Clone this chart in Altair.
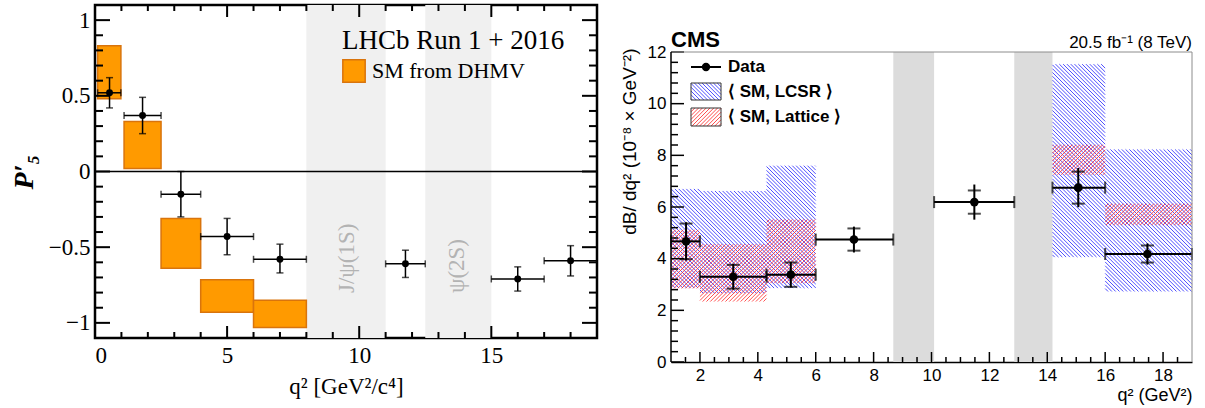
import altair as alt
import numpy as np
import pandas as pd

# ---------------- LHCb panel data ----------------
lhcb_bin_lo = [0.1, 1.1, 2.5, 4.0, 6.0, 11.0, 15.0, 17.0]
lhcb_bin_hi = [0.98, 2.5, 4.0, 6.0, 8.0, 12.5, 17.0, 19.0]
lhcb_x = [0.55, 1.8, 3.25, 5.0, 7.0, 11.75, 16.0, 18.0]
lhcb_p5 = [0.52, 0.37, -0.15, -0.43, -0.58, -0.61, -0.71, -0.59]
lhcb_err_up = [0.10, 0.12, 0.15, 0.12, 0.10, 0.09, 0.08, 0.10]
lhcb_err_dn = [0.10, 0.12, 0.15, 0.12, 0.09, 0.09, 0.08, 0.10]

dhmv_bin_lo = [0.1, 1.1, 2.5, 4.0, 6.0]
dhmv_bin_hi = [0.98, 2.5, 4.0, 6.0, 8.0]
dhmv_lo = [0.48, 0.02, -0.64, -0.93, -1.03]
dhmv_hi = [0.83, 0.33, -0.31, -0.715, -0.85]

lhcb_veto_lo = [8.0, 12.5]
lhcb_veto_hi = [11.0, 15.0]
lhcb_veto_label = ["J/ψ(1S)", "ψ(2S)"]
lhcb_veto_label_x = [9.55, 13.7]

lhcb_x_major = [0, 5, 10, 15]
lhcb_x_minor = [1, 2, 3, 4, 6, 7, 8, 9, 11, 12, 13, 14, 16, 17, 18]
lhcb_y_major = [-1.0, -0.5, 0.0, 0.5, 1.0]
lhcb_y_minor = [-0.9, -0.8, -0.7, -0.6, -0.4, -0.3, -0.2, -0.1,
                0.1, 0.2, 0.3, 0.4, 0.6, 0.7, 0.8, 0.9]

# ---------------- CMS panel data ----------------
cms_bin_lo = [1.0, 2.0, 4.3, 6.0, 10.09, 14.18, 16.0]
cms_bin_hi = [2.0, 4.3, 6.0, 8.68, 12.86, 16.0, 19.0]
cms_x = [1.52, 3.15, 5.14, 7.32, 11.48, 15.07, 17.46]
cms_dbdq2 = [4.67, 3.30, 3.38, 4.74, 6.19, 6.75, 4.18]
cms_stat = [0.69, 0.46, 0.47, 0.43, 0.45, 0.62, 0.33]
cms_total = [0.74, 0.50, 0.50, 0.50, 0.68, 0.76, 0.41]

sm_bin_lo = [1.0, 2.0, 4.3, 14.18, 16.0]
sm_bin_hi = [2.0, 4.3, 6.0, 16.0, 19.0]
lcsr_lo = [2.86, 2.66, 2.86, 4.06, 2.73]
lcsr_hi = [6.70, 6.62, 7.60, 11.53, 8.23]
lattice_lo = [2.85, 2.34, 3.05, 7.25, 5.30]
lattice_hi = [5.12, 4.56, 5.52, 8.41, 6.13]

cms_veto_lo = [8.68, 12.86]
cms_veto_hi = [10.09, 14.18]

cms_x_major = [2, 4, 6, 8, 10, 12, 14, 16, 18]
cms_x_minor = [1.5, 2.5, 3, 3.5, 4.5, 5, 5.5, 6.5, 7, 7.5, 8.5, 9, 9.5,
               10.5, 11, 11.5, 12.5, 13, 13.5, 14.5, 15, 15.5, 16.5, 17,
               17.5, 18.5]
cms_y_major = [0, 2, 4, 6, 8, 10, 12]
cms_y_minor = [0.4, 0.8, 1.2, 1.6, 2.4, 2.8, 3.2, 3.6, 4.4, 4.8, 5.2, 5.6,
               6.4, 6.8, 7.2, 7.6, 8.4, 8.8, 9.2, 9.6, 10.4, 10.8, 11.2, 11.6]

SERIF = "Liberation Serif"
SANS = "Liberation Sans"
one = pd.DataFrame({"a": [0]})


def ticks(values, channel, xs, ys, p0, p1, color, width):
    df = pd.DataFrame({"v": values})
    if channel == "x":
        enc = dict(x=alt.X("v:Q", scale=xs), y=alt.value(p0), y2=alt.value(p1))
    else:
        enc = dict(y=alt.Y("v:Q", scale=ys), x=alt.value(p0), x2=alt.value(p1))
    return alt.Chart(df).mark_rule(color=color, strokeWidth=width).encode(**enc)


def spacer(x0, y0, x1, y1):
    # invisible diagonal rule fixing the panel's layout bounds
    return alt.Chart(one).mark_rule(opacity=0, strokeOpacity=0).encode(
        x=alt.value(x0), y=alt.value(y0), x2=alt.value(x1), y2=alt.value(y1))


TOP = 3          # plot-area top of both panels (page pixels)
BOTTOM = 404     # lowest page pixel used by either panel

# =============== LEFT PANEL ===============
LW, LH = 502, 333
L_LEFT = 95
xs_l = alt.Scale(domain=[0, 19], nice=False, zero=False)
ys_l = alt.Scale(domain=[-1.1, 1.1], nice=False, zero=False)

veto_l = pd.DataFrame({"lo": lhcb_veto_lo, "hi": lhcb_veto_hi,
                       "label": lhcb_veto_label, "lx": lhcb_veto_label_x})
veto_l_layer = alt.Chart(veto_l).mark_rect(color="#f0f0f0").encode(
    x=alt.X("lo:Q", scale=xs_l), x2="hi:Q",
    y=alt.value(0), y2=alt.value(LH))
veto_l_text = alt.Chart(veto_l).mark_text(
    angle=270, align="left", baseline="middle", font=SERIF, fontSize=23,
    color="#b3b3b3").encode(
    x=alt.X("lx:Q", scale=xs_l), y=alt.value(288), text="label:N")

zero_line = alt.Chart(pd.DataFrame({"z": [0.0]})).mark_rule(
    color="black", strokeWidth=1.5).encode(y=alt.Y("z:Q", scale=ys_l))

dhmv = pd.DataFrame({"x0": dhmv_bin_lo, "x1": dhmv_bin_hi, "lo": dhmv_lo,
                     "hi": dhmv_hi, "label": ["SM from DHMV"] * 5})
dhmv_layer = alt.Chart(dhmv).mark_rect(strokeWidth=1.5, stroke="#d9740c",
                                       opacity=1).encode(
    x=alt.X("x0:Q", scale=xs_l), x2="x1:Q",
    y=alt.Y("lo:Q", scale=ys_l), y2="hi:Q",
    color=alt.Color("label:N",
                    scale=alt.Scale(domain=["SM from DHMV"], range=["#ff9a00"]),
                    legend=alt.Legend(
                        title="LHCb Run 1 + 2016", orient="none",
                        legendX=247, legendY=23, titleFont=SERIF,
                        titleFontSize=27, titleFontWeight="normal",
                        titleColor="black", titleLimit=400, labelLimit=400,
                        labelFont=SERIF, labelFontSize=22, labelColor="black",
                        symbolType="square", symbolSize=500,
                        symbolStrokeColor="#d9740c", symbolStrokeWidth=1.5,
                        symbolOpacity=1, titlePadding=4, labelOffset=6)))

lhcb = pd.DataFrame({"x": lhcb_x, "lo": lhcb_bin_lo, "hi": lhcb_bin_hi,
                     "y": lhcb_p5,
                     "ylo": [v - e for v, e in zip(lhcb_p5, lhcb_err_dn)],
                     "yhi": [v + e for v, e in zip(lhcb_p5, lhcb_err_up)]})
lb = alt.Chart(lhcb)
l_hbar = lb.mark_rule(color="black", strokeWidth=1.5).encode(
    x=alt.X("lo:Q", scale=xs_l), x2="hi:Q", y=alt.Y("y:Q", scale=ys_l))
l_vbar = lb.mark_rule(color="black", strokeWidth=1.5).encode(
    x=alt.X("x:Q", scale=xs_l), y=alt.Y("ylo:Q", scale=ys_l), y2="yhi:Q")
l_caps = []
for fx in ["lo", "hi"]:
    l_caps.append(lb.mark_tick(orient="vertical", size=7, thickness=1.5,
                               color="black").encode(
        x=alt.X(f"{fx}:Q", scale=xs_l), y=alt.Y("y:Q", scale=ys_l)))
for fy in ["ylo", "yhi"]:
    l_caps.append(lb.mark_tick(orient="horizontal", size=7, thickness=1.5,
                               color="black").encode(
        x=alt.X("x:Q", scale=xs_l), y=alt.Y(f"{fy}:Q", scale=ys_l)))
l_pts = lb.mark_circle(size=48, color="black", opacity=1).encode(
    x=alt.X("x:Q", scale=xs_l, axis=alt.Axis(
        values=lhcb_x_major, ticks=False, domain=False, grid=False,
        labelFont=SERIF, labelFontSize=23, labelColor="black", labelPadding=6,
        title="q² [GeV²/c⁴]", titleFont=SERIF, titleFontSize=23,
        titleFontWeight="normal", titleColor="black", titlePadding=8)),
    y=alt.Y("y:Q", scale=ys_l, axis=alt.Axis(
        values=lhcb_y_major, format="~g", ticks=False, domain=False,
        grid=False, labelFont=SERIF, labelFontSize=23, labelColor="black",
        labelPadding=5, title="P′₅", titleFont=SERIF, titleFontSize=28,
        titleFontStyle="italic", titleFontWeight="bold", titleColor="black",
        titlePadding=10)))

l_ticks = [
    ticks(lhcb_x_major, "x", xs_l, ys_l, LH, LH - 12, "black", 2),
    ticks(lhcb_x_major, "x", xs_l, ys_l, 0, 12, "black", 2),
    ticks(lhcb_x_minor, "x", xs_l, ys_l, LH, LH - 6, "black", 2),
    ticks(lhcb_x_minor, "x", xs_l, ys_l, 0, 6, "black", 2),
    ticks(lhcb_y_major, "y", xs_l, ys_l, 0, 15, "black", 2),
    ticks(lhcb_y_major, "y", xs_l, ys_l, LW, LW - 15, "black", 2),
    ticks(lhcb_y_minor, "y", xs_l, ys_l, 0, 8, "black", 2),
    ticks(lhcb_y_minor, "y", xs_l, ys_l, LW, LW - 8, "black", 2),
]

left = alt.layer(veto_l_layer, veto_l_text, zero_line, dhmv_layer, l_hbar,
                 l_vbar, *l_caps, l_pts, *l_ticks,
                 spacer(-(L_LEFT - 2), -TOP, LW - 6, BOTTOM - TOP)).properties(
    width=LW, height=LH,
    view=alt.ViewBackground(stroke="black", strokeWidth=2.5, fill="white"))

# =============== RIGHT PANEL ===============
# The CMS frame (y = 0..12) sits 47 px below the panel top; the plot area
# therefore starts at TOP and the y scale extends above 12 (hidden headroom).
RW = 521
R_LEFT = 668
FRAME_H = 310
FT = 47                      # frame top offset inside the plot area
RH = FRAME_H + FT
RX0, RX1, RY0, RY1 = 1.0, 19.0, 0.0, 12.0
PXX = RW / (RX1 - RX0)
PXY = FRAME_H / (RY1 - RY0)
xs_r = alt.Scale(domain=[RX0, RX1], nice=False, zero=False)
ys_r = alt.Scale(domain=[RY0, RY1 + FT / PXY], nice=False, zero=False)
STEP = 3.8


def hatch(X0, X1, Y0, Y1, direction):
    """diagonal hatch segments inside a pixel rectangle (y downward)"""
    segs = []
    if direction == "back":
        k0 = int(np.ceil((X0 - Y1) / STEP))
        k1 = int(np.floor((X1 - Y0) / STEP))
        for k in range(k0, k1 + 1):
            c = k * STEP
            xa, xb = max(X0, Y0 + c), min(X1, Y1 + c)
            if xb - xa > 0.4:
                segs.append((xa, xa - c, xb, xb - c))
    else:
        k0 = int(np.ceil((X0 + Y0) / STEP))
        k1 = int(np.floor((X1 + Y1) / STEP))
        for k in range(k0, k1 + 1):
            c = k * STEP
            xa, xb = max(X0, c - Y1), min(X1, c - Y0)
            if xb - xa > 0.4:
                segs.append((xa, c - xa, xb, c - xb))
    return segs


def hatch_df(xlo, xhi, ylo, yhi, direction):
    rows = []
    for a, b, lo, hi in zip(xlo, xhi, ylo, yhi):
        X0, X1 = (a - RX0) * PXX, (b - RX0) * PXX
        Y0, Y1 = (RY1 - hi) * PXY, (RY1 - lo) * PXY
        for xa, ya, xb, yb in hatch(X0, X1, Y0, Y1, direction):
            rows.append({"x": RX0 + xa / PXX, "y": RY1 - ya / PXY,
                         "x2": RX0 + xb / PXX, "y2": RY1 - yb / PXY})
    return pd.DataFrame(rows)


def px_to_data_x(p):
    return RX0 + p / PXX


def px_to_data_y(p):
    # p measured from the frame top
    return RY1 - p / PXY


lcsr_color = "#3030ff"
latt_color = "#ff3030"


def hatch_layer(df, color):
    return alt.Chart(df).mark_rule(color=color, strokeWidth=1,
                                   opacity=0.85).encode(
        x=alt.X("x:Q", scale=xs_r), x2="x2:Q",
        y=alt.Y("y:Q", scale=ys_r), y2="y2:Q")


veto_r = pd.DataFrame({"lo": cms_veto_lo, "hi": cms_veto_hi,
                       "b": [RY0] * 2, "t": [RY1] * 2})
veto_r_layer = alt.Chart(veto_r).mark_rect(color="#dcdcdc").encode(
    x=alt.X("lo:Q", scale=xs_r), x2="hi:Q",
    y=alt.Y("b:Q", scale=ys_r), y2="t:Q")

lcsr_h = hatch_layer(hatch_df(sm_bin_lo, sm_bin_hi, lcsr_lo, lcsr_hi, "back"),
                     lcsr_color)
latt_h = hatch_layer(hatch_df(sm_bin_lo, sm_bin_hi, lattice_lo, lattice_hi,
                              "fwd"), latt_color)

# frame of the CMS plot (domain edges)
frame_df = pd.DataFrame({"x": [RX0, RX0, RX1], "x2": [RX1, RX0, RX1],
                         "y": [RY1, RY0, RY0], "y2": [RY1, RY1, RY1],
                         "c": ["top", "left", "right"]})
frame_grey = alt.Chart(frame_df[frame_df.c != "left"]).mark_rule(
    color="#8c8c8c", strokeWidth=1).encode(
    x=alt.X("x:Q", scale=xs_r), x2="x2:Q", y=alt.Y("y:Q", scale=ys_r), y2="y2:Q")
frame_left = alt.Chart(frame_df[frame_df.c == "left"]).mark_rule(
    color="black", strokeWidth=1.5).encode(
    x=alt.X("x:Q", scale=xs_r), y=alt.Y("y:Q", scale=ys_r), y2="y2:Q")

# legend boxes (pixel positions measured from the frame top)
leg_x0, leg_x1 = 20, 50
leg_boxes = [(31, 48), (56, 74)]
leg_lcsr = hatch_layer(hatch_df([px_to_data_x(leg_x0)], [px_to_data_x(leg_x1)],
                                [px_to_data_y(leg_boxes[0][1])],
                                [px_to_data_y(leg_boxes[0][0])], "back"),
                       lcsr_color)
leg_latt = hatch_layer(hatch_df([px_to_data_x(leg_x0)], [px_to_data_x(leg_x1)],
                                [px_to_data_y(leg_boxes[1][1])],
                                [px_to_data_y(leg_boxes[1][0])], "fwd"),
                       latt_color)
leg_frames = [alt.Chart(one).mark_rect(fillOpacity=0, stroke="#333333",
                                       strokeWidth=1).encode(
    x=alt.value(leg_x0), x2=alt.value(leg_x1), y=alt.value(t + FT),
    y2=alt.value(b + FT))
    for t, b in leg_boxes]
leg_line = alt.Chart(one).mark_rule(color="black", strokeWidth=2).encode(
    x=alt.value(leg_x0), x2=alt.value(leg_x1), y=alt.value(15 + FT))
leg_dot = alt.Chart(one).mark_circle(size=70, color="black", opacity=1).encode(
    x=alt.value((leg_x0 + leg_x1) / 2), y=alt.value(15 + FT))
leg_labels = ["Data", "⟨ SM, LCSR ⟩", "⟨ SM, Lattice ⟩"]
leg_label_y = [15, 40, 65]
leg_texts = [alt.Chart(one).mark_text(
    text=t, align="left", baseline="middle", font=SANS, fontSize=17,
    fontWeight="bold", color="black").encode(
    x=alt.value(57), y=alt.value(py + FT))
    for t, py in zip(leg_labels, leg_label_y)]

cms = pd.DataFrame({"x": cms_x, "lo": cms_bin_lo, "hi": cms_bin_hi,
                    "y": cms_dbdq2,
                    "slo": [v - e for v, e in zip(cms_dbdq2, cms_stat)],
                    "shi": [v + e for v, e in zip(cms_dbdq2, cms_stat)],
                    "tlo": [v - e for v, e in zip(cms_dbdq2, cms_total)],
                    "thi": [v + e for v, e in zip(cms_dbdq2, cms_total)]})
cb = alt.Chart(cms)
r_hbar = cb.mark_rule(color="black", strokeWidth=2).encode(
    x=alt.X("lo:Q", scale=xs_r), x2="hi:Q", y=alt.Y("y:Q", scale=ys_r))
r_vbar = cb.mark_rule(color="black", strokeWidth=2).encode(
    x=alt.X("x:Q", scale=xs_r), y=alt.Y("tlo:Q", scale=ys_r), y2="thi:Q")
r_caps = []
for fx in ["lo", "hi"]:
    r_caps.append(cb.mark_tick(orient="vertical", size=12, thickness=2,
                               color="black").encode(
        x=alt.X(f"{fx}:Q", scale=xs_r), y=alt.Y("y:Q", scale=ys_r)))
for fy in ["slo", "shi"]:
    r_caps.append(cb.mark_tick(orient="horizontal", size=13, thickness=2,
                               color="black").encode(
        x=alt.X("x:Q", scale=xs_r), y=alt.Y(f"{fy}:Q", scale=ys_r)))
r_pts = cb.mark_circle(size=75, color="black", opacity=1).encode(
    x=alt.X("x:Q", scale=xs_r, axis=alt.Axis(
        values=cms_x_major, ticks=False, domain=True, domainColor="black",
        domainWidth=1.5, grid=False, labelFont=SANS, labelFontSize=17,
        labelColor="black", labelPadding=5, title="q² (GeV²)",
        titleFont=SANS, titleFontSize=18, titleFontWeight="normal",
        titleColor="black", titleAnchor="end", titlePadding=3)),
    y=alt.Y("y:Q", scale=ys_r, axis=alt.Axis(
        values=cms_y_major, ticks=False, domain=False, grid=False,
        labelFont=SANS, labelFontSize=17, labelColor="black", labelPadding=5,
        title="dB/ dq² (10⁻⁸ × GeV⁻²)", titleFont=SANS, titleFontSize=19,
        titleFontWeight="normal", titleColor="black", titleAngle=270,
        titleAlign="right", titleBaseline="middle", titleX=-42,
        titleY=FT - 4)))

r_ticks = [
    ticks(cms_x_major, "x", xs_r, ys_r, RH, RH - 10, "black", 1.5),
    ticks(cms_x_minor, "x", xs_r, ys_r, RH, RH - 5, "black", 1.5),
    ticks(cms_y_major, "y", xs_r, ys_r, 0, 13, "black", 1.5),
    ticks(cms_y_minor, "y", xs_r, ys_r, 0, 7, "black", 1.5),
]

cms_label = alt.Chart(one).mark_text(
    text="CMS", align="left", baseline="alphabetic", font=SANS, fontSize=22,
    fontWeight="bold", color="black").encode(x=alt.value(0),
                                             y=alt.value(FT - 5))
lumi_label = alt.Chart(one).mark_text(
    text="20.5 fb⁻¹ (8 TeV)", align="right", baseline="alphabetic", font=SANS,
    fontSize=17, color="black").encode(x=alt.value(RW), y=alt.value(FT - 4))

right = alt.layer(veto_r_layer, lcsr_h, latt_h, r_hbar, r_vbar, *r_caps,
                  r_pts, *r_ticks, frame_grey, frame_left, leg_lcsr, leg_latt,
                  *leg_frames, leg_line, leg_dot, *leg_texts, cms_label,
                  lumi_label,
                  spacer(-(R_LEFT - L_LEFT - LW), -TOP, RW, BOTTOM - TOP)
                  ).properties(
    width=RW, height=RH,
    view=alt.ViewBackground(stroke=None, fill="white"))

chart = alt.hconcat(left, right, spacing=0).properties(
    padding={"left": 0, "top": 0, "right": 0, "bottom": 0},
    background="white",
)

chart.save("out.html", embed_options={"renderer": "svg", "actions": False})
